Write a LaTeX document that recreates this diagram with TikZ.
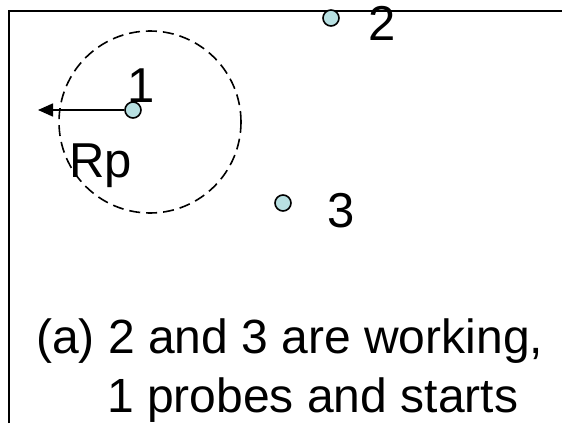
\documentclass[tikz,border=0pt]{standalone}
\usepackage{fontspec}
\setmainfont{Liberation Sans}
\usetikzlibrary{arrows.meta}
\definecolor{probefill}{RGB}{184,224,226}

\begin{document}
\begin{tikzpicture}[x=1pt,y=-1pt,>={Triangle[length=15pt,width=13pt]},
  sensor/.style={circle,draw,fill=probefill,minimum size=16pt,inner sep=0pt,line width=1.6pt},
  lab/.style={font=\fontsize{49}{49}\selectfont,inner sep=0pt,anchor=base},
  capline/.style={font=\fontsize{48}{48}\selectfont,inner sep=0pt,anchor=base west}]
  \useasboundingbox (0,0) rectangle (562,423);
  % frame
  \draw[line width=2pt] (9,423) -- (9,11) -- (562,11);
  % probing range of 1
  \draw[dash pattern=on 11pt off 6pt,line width=1.6pt] (150,122) circle[radius=91pt];
  % sensors
  \node[sensor] (n1) at (133,110) {};
  \node[sensor] (n2) at (331,18) {};
  \node[sensor] (n3) at (283,203) {};
  \node[lab] (l1) at (141,102) {1};
  \node[lab] (l2) at (382,40) {2};
  \node[lab] (l3) at (341,227) {3};
  % radius
  \coordinate (tip) at (38,110);
  \draw[->,line width=1.6pt] (n1) -- (tip);
  \node[lab,anchor=base west] (rp) at (69,177) {Rp};
  % caption
  \node[capline] (cap1) at (36,353) {(a) 2 and 3 are working,};
  \node[capline] (cap2) at (107,412) {1 probes and starts};
\end{tikzpicture}
\end{document}
